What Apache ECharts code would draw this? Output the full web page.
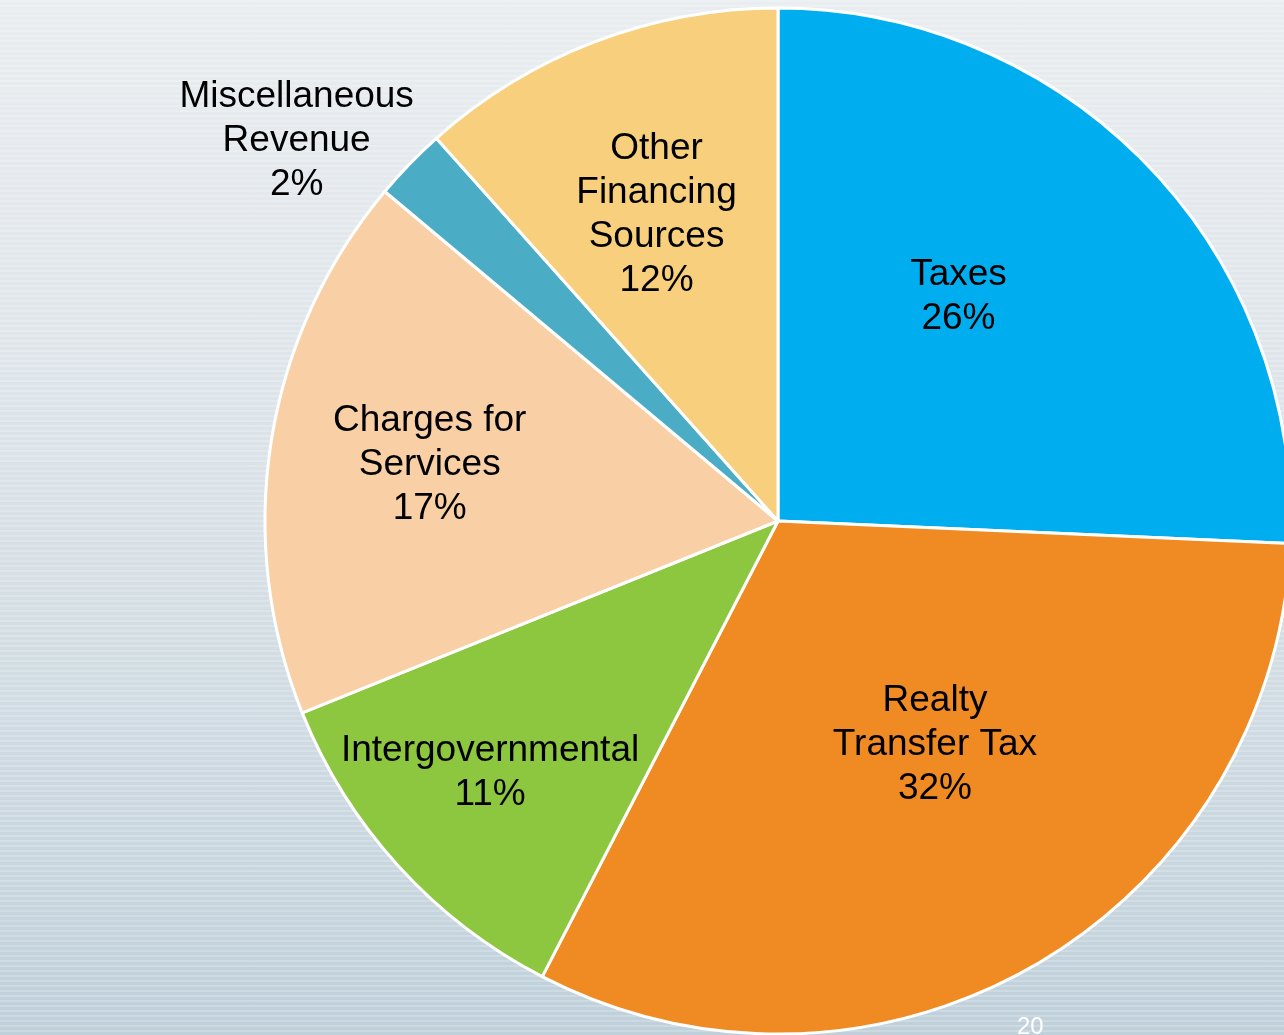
<!DOCTYPE html>
<html style="height: 100%;">
<head>
<meta charset="utf-8">
<title>Revenue Sources</title>
<script src="https://cdn.jsdelivr.net/npm/echarts@6/dist/echarts.min.js"></script>
<style>
  html, body { margin: 0; height: 100%; }
  body {
    background:
      repeating-linear-gradient(180deg, rgba(255,255,255,0.2) 0px, rgba(255,255,255,0.2) 2px, rgba(0,0,0,0) 2px, rgba(0,0,0,0) 5px),
      linear-gradient(180deg, #e9edf0 0%, #dde4e9 40%, #cdd9e1 75%, #bfd0da 100%);
  }
</style>
</head>
<body>
<div id="container" style="width: 1284px; height: 1035px;"></div>
<script type="text/javascript">
// categories and shares (percent), clockwise from 12 o'clock
var categories = ['Taxes', 'Realty\nTransfer Tax', 'Intergovernmental', 'Charges for\nServices', 'Miscellaneous\nRevenue', 'Other\nFinancing\nSources'];
var shares = [25.7, 31.9, 11.3, 17.2, 2.3, 11.6];
var colors = ['#00aeef', '#f08a22', '#8dc63f', '#f9cfa5', '#4bacc6', '#f7cf7d'];

// nudges of each label from its default inside spot
var labelShift = [[-7, -45], [27, -1], [-96, 77], [-92, -16], [-295, -200], [-29, -64]];

var chart = echarts.init(document.getElementById('container'));

var data = [];
for (var i = 0; i < categories.length; i++) {
  data.push({ name: categories[i], value: shares[i], itemStyle: { color: colors[i] } });
}

chart.setOption({
  backgroundColor: 'transparent',
  animation: false,
  series: [{
    type: 'pie',
    center: [778, 521],
    radius: 513,
    startAngle: 90,
    clockwise: true,
    data: data,
    itemStyle: { borderColor: '#ffffff', borderWidth: 3 },
    label: {
      show: true,
      position: 'inside',
      color: '#000000',
      fontFamily: 'Liberation Sans, Arial, sans-serif',
      fontSize: 37,
      lineHeight: 44,
      align: 'center',
      formatter: function (p) { return p.name + '\n' + Math.round(p.percent) + '%'; }
    },
    labelLine: { show: false },
    labelLayout: function (p) {
      var s = labelShift[p.dataIndex];
      return { dx: s[0], dy: s[1] };
    },
    emphasis: { disabled: true }
  }],
  graphic: [{
    type: 'text',
    left: 1017,
    top: 1015,
    style: { text: '20', fill: '#ffffff', font: '24px Liberation Sans, Arial, sans-serif' }
  }]
});
</script>
</body>
</html>
